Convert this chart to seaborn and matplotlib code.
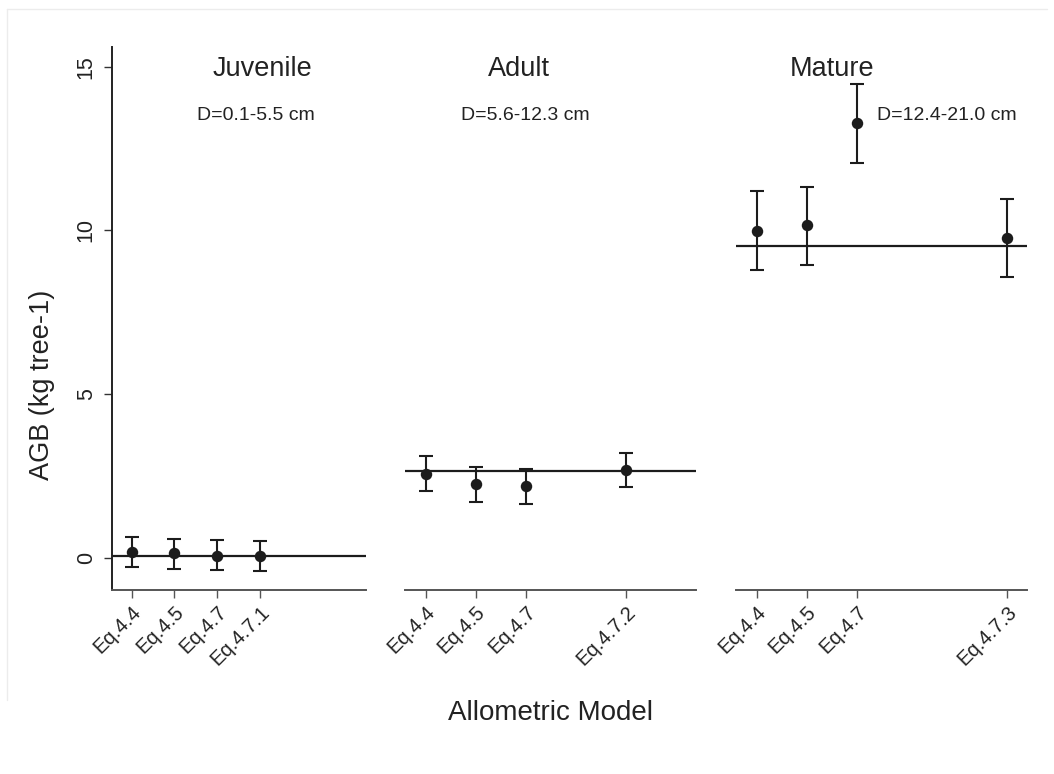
import matplotlib
matplotlib.use("Agg")
import matplotlib.pyplot as plt
import seaborn as sns
import pandas as pd
from matplotlib.lines import Line2D

sns.set_theme(style="white")
plt.rcParams["font.family"] = ["Liberation Sans", "DejaVu Sans"]

# ---- data ----
stages = ["Juvenile", "Adult", "Mature"]
ranges = ["D=0.1-5.5 cm", "D=5.6-12.3 cm", "D=12.4-21.0 cm"]

juv_models = ["Eq.4.4", "Eq.4.5", "Eq.4.7", "Eq.4.7.1"]
juv_slot = [1, 2, 3, 4]
juv_mean = [0.18, 0.15, 0.07, 0.06]
juv_low = [-0.28, -0.34, -0.37, -0.39]
juv_high = [0.64, 0.58, 0.54, 0.52]
juv_obs = 0.05

adu_models = ["Eq.4.4", "Eq.4.5", "Eq.4.7", "Eq.4.7.2"]
adu_slot = [1, 2, 3, 5]
adu_mean = [2.57, 2.25, 2.21, 2.68]
adu_low = [2.03, 1.71, 1.65, 2.15]
adu_high = [3.10, 2.78, 2.72, 3.21]
adu_obs = 2.66

mat_models = ["Eq.4.4", "Eq.4.5", "Eq.4.7", "Eq.4.7.3"]
mat_slot = [1, 2, 3, 6]
mat_mean = [9.98, 10.15, 13.27, 9.77]
mat_low = [8.78, 8.94, 12.05, 8.57]
mat_high = [11.19, 11.33, 14.46, 10.97]
mat_obs = 9.53

panels = [
    (juv_models, juv_slot, juv_mean, juv_low, juv_high, juv_obs),
    (adu_models, adu_slot, adu_mean, adu_low, adu_high, adu_obs),
    (mat_models, mat_slot, mat_mean, mat_low, mat_high, mat_obs),
]

W, H = 1054, 774
fig = plt.figure(figsize=(W / 100, H / 100), dpi=100)
ink = "#1c1c1c"

bottom = 1 - 590 / H
top = 1 - 47 / H
boxes = [(112, 366), (405, 696), (736, 1027)]
xlims = [(0.54, 6.49), (0.59, 6.40), (0.59, 6.40)]
title_x = [262, 519, 832]
range_x = [256, 525, 947]

for i, (models, slot, mean, low, high, obs) in enumerate(panels):
    l, r = boxes[i]
    ax = fig.add_axes([l / W, bottom, (r - l) / W, top - bottom])
    df = pd.DataFrame({"slot": slot, "mean": mean, "low": low, "high": high})
    ax.axhline(obs, color=ink, lw=1.6, zorder=1)
    ax.errorbar(df["slot"], df["mean"],
                yerr=[df["mean"] - df["low"], df["high"] - df["mean"]],
                fmt="none", ecolor=ink, elinewidth=1.5, capsize=5, capthick=1.5, zorder=2)
    sns.scatterplot(data=df, x="slot", y="mean", ax=ax, color=ink, s=68,
                    edgecolor=ink, linewidth=0, zorder=3, legend=False)
    ax.set_xlim(*xlims[i])
    ax.set_ylim(-0.98, 15.6)
    ax.set_xticks(slot)
    ax.set_xticklabels(models, rotation=45, ha="right", rotation_mode="anchor",
                       color="#222222")
    ax.set_xlabel("")
    ax.set_ylabel("")
    ax.tick_params(axis="x", length=6, width=1, color="#555555", pad=3,
                   bottom=True, labelsize=14.5)
    for s in ["top", "right"]:
        ax.spines[s].set_visible(False)
    ax.spines["bottom"].set_color("#555555")
    ax.spines["bottom"].set_linewidth(1.4)
    if i == 0:
        ax.set_yticks([0, 5, 10, 15])
        ax.set_yticklabels(["0", "5", "10", "15"], rotation=90, va="center",
                           color="#222222")
        ax.tick_params(axis="y", length=6, width=1, color="#333333", pad=5,
                       left=True, labelsize=15.5)
        ax.spines["left"].set_color("#222222")
        ax.spines["left"].set_linewidth(1.4)
    else:
        ax.spines["left"].set_visible(False)
        ax.set_yticks([])
    ax.set_facecolor("white")
    fig.text(title_x[i] / W, 1 - 69 / H, stages[i], ha="center", va="center",
             fontsize=19.5, color="#222222")
    fig.text(range_x[i] / W, 1 - 115 / H, ranges[i], ha="center", va="center",
             fontsize=14, color="#222222")

fig.text(42 / W, 1 - 385 / H, "AGB (kg tree-1)", rotation=90, ha="center",
         va="center", fontsize=19.5, color="#222222")
fig.text(551 / W, 1 - 713 / H, "Allometric Model", ha="center", va="center",
         fontsize=20, color="#222222")

# faint frame edge visible at top and left of the reference
fig.add_artist(Line2D([7 / W, 7 / W], [1 - 9 / H, 1 - 700 / H], color="#ececec", lw=1))
fig.add_artist(Line2D([7 / W, 1047 / W], [1 - 9 / H, 1 - 9 / H], color="#ececec", lw=1))

fig.savefig("out.png", dpi=100, facecolor="white")
